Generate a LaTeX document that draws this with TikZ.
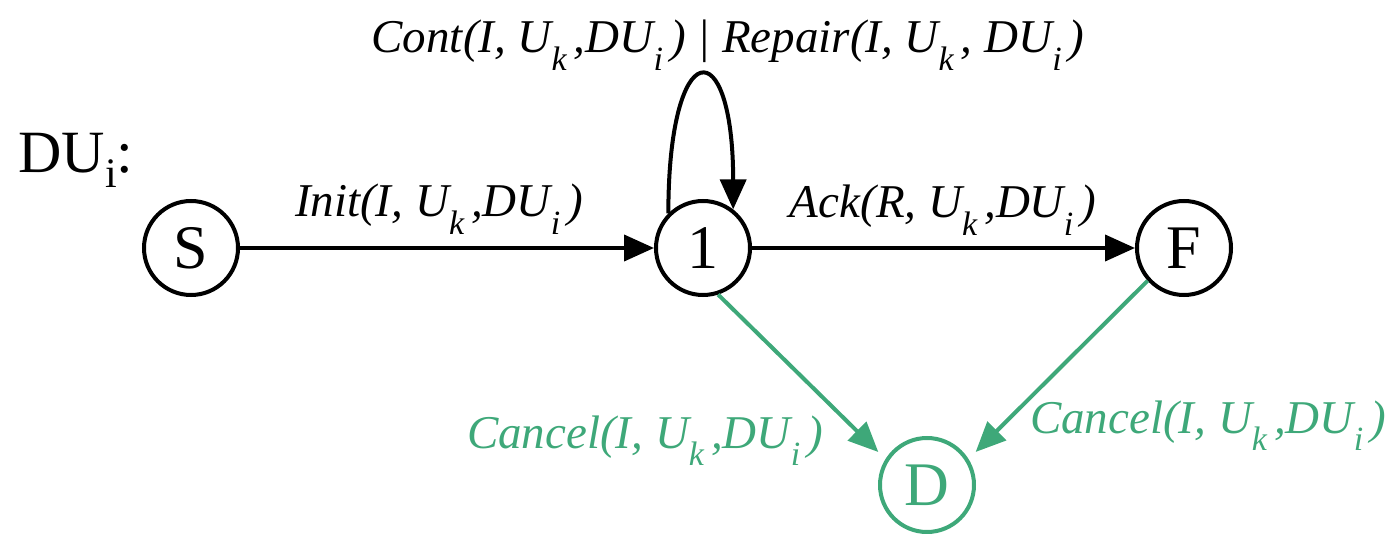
\documentclass[tikz,border=0pt]{standalone}
\usepackage{fontspec}
\setmainfont{Liberation Serif}
\usetikzlibrary{arrows.meta}
\definecolor{cancelgreen}{RGB}{62,168,121}
% index set low and fairly large, as in the labels
\newcommand{\lowsub}[1]{\raisebox{-0.37em}{\fontsize{17}{17}\selectfont #1}\kern0.15em}

\begin{document}
\begin{tikzpicture}[x=0.5pt,y=-0.5pt,
    state/.style={circle,draw,line width=2pt,minimum size=47pt,inner sep=0pt,
                  font=\fontsize{31}{36}\selectfont},
    trans/.style={line width=2pt,-{Triangle[length=15pt,width=13pt]}},
    cancel/.style={trans,cancelgreen},
    event/.style={font=\fontsize{23.5}{28}\selectfont\itshape,anchor=base,inner sep=0pt}]

  \useasboundingbox (0,0) rectangle (1393,534);

  % --- the four states ---
  \node[state] (s)   at ( 191,248) {S};
  \node[state] (one) at ( 703,248) {1};
  \node[state] (f)   at (1184,248) {F};
  \node[state,text=cancelgreen,draw=cancelgreen] (d) at (927,485) {D};

  % --- name of the machine ---
  \node[anchor=base west,inner sep=0pt,font=\fontsize{30}{36}\selectfont] (name)
    at (18,173) {DU\raisebox{-7.5pt}{\fontsize{21}{21}\selectfont i}:};

  % --- transitions ---
  \draw[trans] (s) -- (one);
  \draw[trans] (one) -- (f);
  \draw[trans] (one.135) .. controls +(0,-180) and +(0,-180) .. (one.52);
  \draw[cancel,shorten >=5pt] (one.-72) -- (d.148);
  \draw[cancel,shorten >=5pt] (f.222) -- (d.32);

  % --- events on the transitions ---
  \node[event] (init) at (439,217) {Init(I, U\lowsub{k},DU\lowsub{i})};
  \node[event] (ack)  at (943,218) {Ack(R, U\lowsub{k},DU\lowsub{i})};
  \node[event] (loop) at (728, 53)
    {Cont(I, U\lowsub{k},DU\lowsub{i}) | Repair(I, U\lowsub{k}, DU\lowsub{i})};
  \node[event,cancelgreen] (cancelone) at ( 645,448) {Cancel(I, U\lowsub{k},DU\lowsub{i})};
  \node[event,cancelgreen] (cancelf)   at (1208,433) {Cancel(I, U\lowsub{k},DU\lowsub{i})};
\end{tikzpicture}
\end{document}
